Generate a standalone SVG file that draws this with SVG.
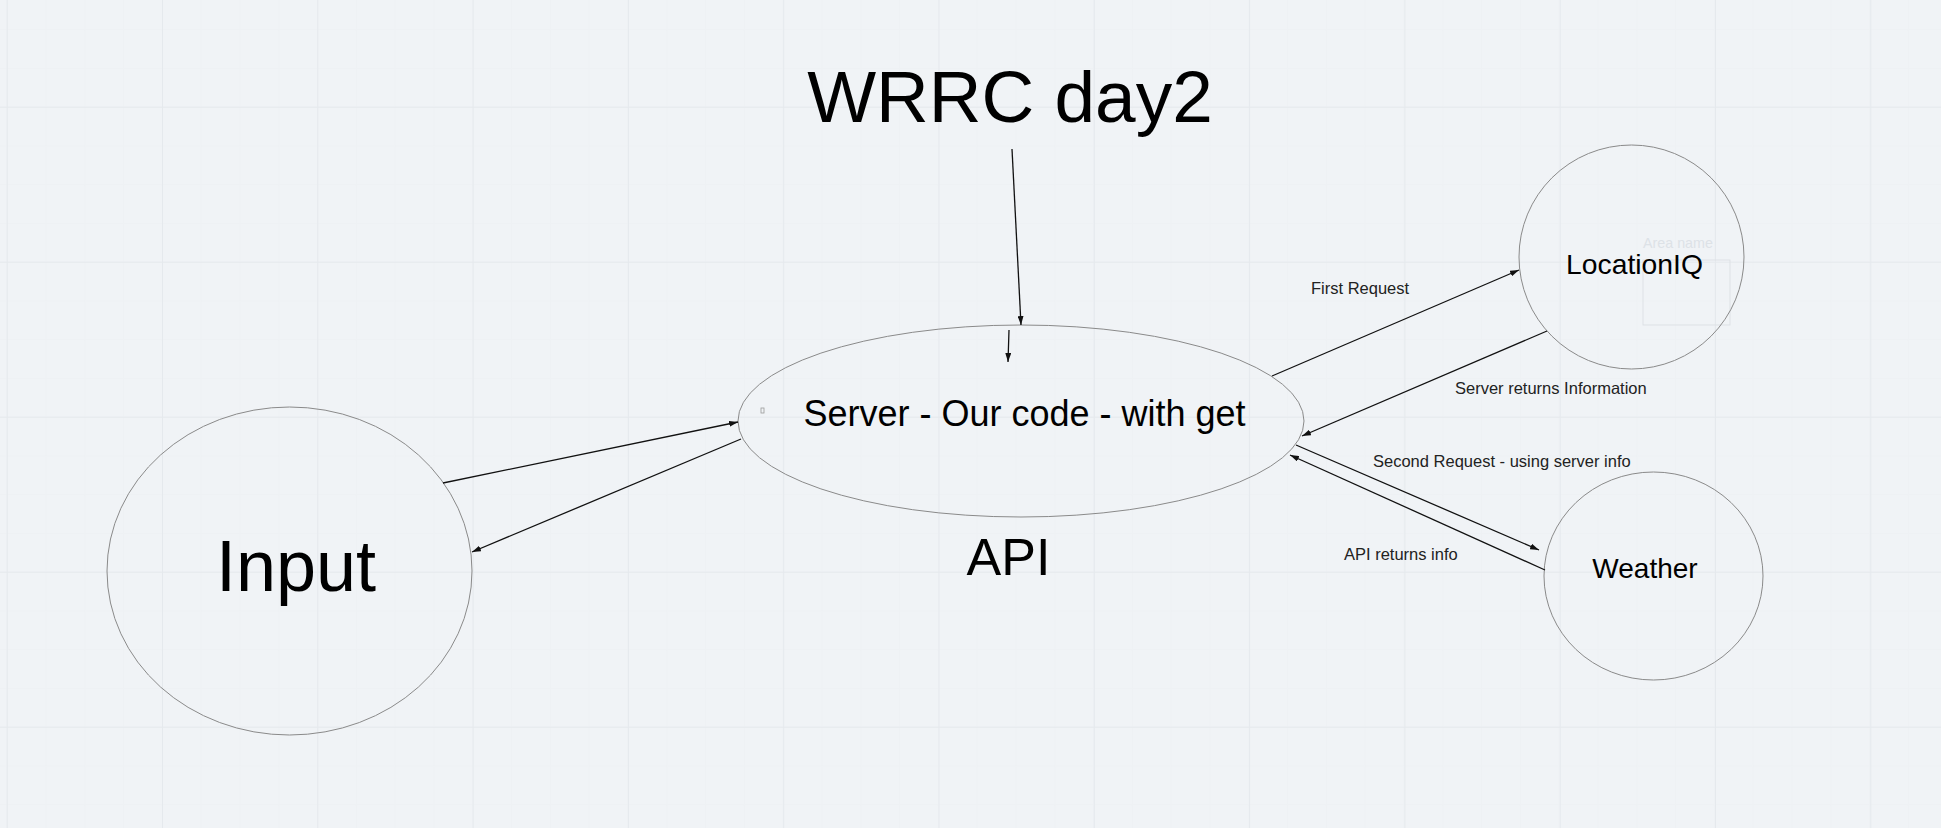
<svg xmlns="http://www.w3.org/2000/svg" width="1941" height="828" viewBox="0 0 1941 828">
<style>
.node{fill:none;stroke:#8a8a8a;stroke-width:1}
.lbl{font-family:"Liberation Sans",Arial,sans-serif;fill:#000}
.edge{stroke:#111;stroke-width:1.3;fill:none;marker-end:url(#ah)}
.el{font-family:"Liberation Sans",Arial,sans-serif;font-size:16.5px;fill:#222}
</style>
<defs>
<marker id="ah" markerUnits="userSpaceOnUse" markerWidth="9" markerHeight="6" refX="9" refY="3" orient="auto">
<path d="M0,0 L9,3 L0,6 z" fill="#111"/>
</marker>
<pattern id="minor" x="6.7" y="106.7" width="38.8" height="38.75" patternUnits="userSpaceOnUse">
<path d="M0.5,0 V38.75 M0,0.5 H38.8" stroke="#eef1f4" stroke-width="1" fill="none"/>
</pattern>
<pattern id="major" x="6.7" y="106.7" width="155.3" height="155" patternUnits="userSpaceOnUse">
<path d="M0.5,0 V155 M0,0.5 H155.3" stroke="#e5e9ed" stroke-width="1" fill="none"/>
</pattern>
</defs>
<rect width="1941" height="828" fill="#f0f3f6"/>
<rect width="1941" height="828" fill="url(#minor)"/>
<rect width="1941" height="828" fill="url(#major)"/>

<g id="title">
<text class="lbl" x="1010" y="122" font-size="73" text-anchor="middle">WRRC day2</text>
</g>

<g id="server">
<ellipse class="node" cx="1021" cy="421" rx="283" ry="96"/>
<rect x="761" y="408" width="3" height="5" fill="none" stroke="#999" stroke-width="0.8"/>
<text class="lbl" x="1024.5" y="426" font-size="36" text-anchor="middle">Server - Our code - with get</text>
</g>

<g id="api">
<text class="lbl" x="1008.5" y="575" font-size="52" text-anchor="middle">API</text>
</g>

<g id="input">
<ellipse class="node" cx="289.5" cy="571" rx="182.5" ry="164"/>
<text class="lbl" x="296" y="591" font-size="72" text-anchor="middle">Input</text>
</g>

<g id="locationiq">
<rect x="1643" y="260" width="87" height="65" fill="none" stroke="#dde1e5" stroke-width="1"/>
<text x="1643" y="248" font-family="Liberation Sans, Arial, sans-serif" font-size="14.3" fill="#dde2e7">Area name</text>
<ellipse class="node" cx="1631.5" cy="257" rx="112.5" ry="112"/>
<text class="lbl" x="1634.5" y="274" font-size="28.3" text-anchor="middle">LocationIQ</text>
</g>

<g id="weather">
<ellipse class="node" cx="1653.5" cy="576" rx="109.5" ry="104"/>
<text class="lbl" x="1645" y="578" font-size="28" text-anchor="middle">Weather</text>
</g>

<g id="connectors">
<line class="edge" x1="1012" y1="149" x2="1021" y2="325"/>
<line class="edge" x1="1009" y1="330" x2="1008" y2="362"/>
<line class="edge" x1="443" y1="483" x2="738" y2="422"/>
<line class="edge" x1="741" y1="439" x2="472" y2="552"/>
<line class="edge" x1="1272" y1="376" x2="1519" y2="270"/>
<line class="edge" x1="1547" y1="331" x2="1302" y2="436"/>
<line class="edge" x1="1296" y1="445" x2="1539" y2="550"/>
<line class="edge" x1="1545" y1="570" x2="1290" y2="455"/>
<text class="el" x="1311" y="294">First Request</text>
<text class="el" x="1455" y="394">Server returns Information</text>
<text class="el" x="1373" y="467">Second Request - using server info</text>
<text class="el" x="1344" y="560">API returns info</text>
</g>
</svg>
